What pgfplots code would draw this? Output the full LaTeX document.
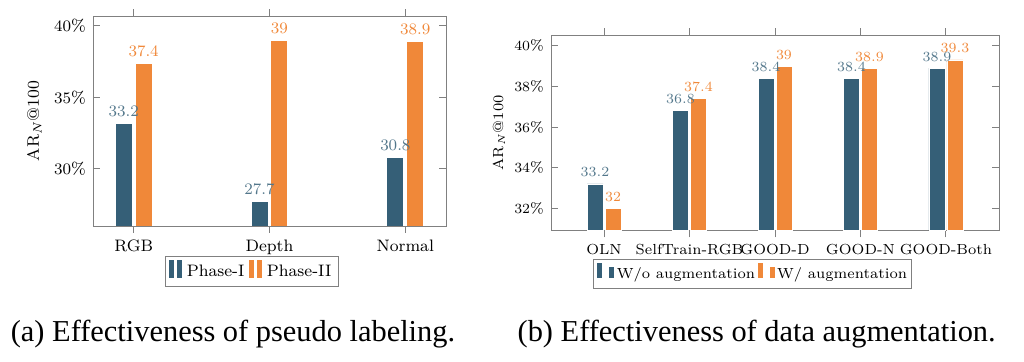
\documentclass[border=0pt]{standalone}
\usepackage{fontspec}
\usepackage{graphicx}
\usepackage{pgfplots}
\pgfplotsset{compat=1.18}
\newfontfamily\capfont{Liberation Serif}
\definecolor{cblue}{HTML}{355F77}
\definecolor{corange}{HTML}{F08839}
\definecolor{axgray}{HTML}{808080}
\pgfplotsset{
  mybar/.style={
    scale only axis,
    enlargelimits=false,
    ybar=1.4pt,
    axis line style={axgray},
    tick style={axgray, line width=0.5pt},
    major tick length=3.3pt,
    xtick align=outside,
    ytick align=inside,
    xtick pos=both,
    ytick pos=both,
    xticklabel pos=bottom,
    yticklabel pos=left,
    yticklabel={\pgfmathprintnumber{\tick}\%},
    ylabel={AR$_N$@100},
    legend columns=-1,
    legend image code/.code={%
      \draw[#1] (0cm,-0.1cm) rectangle (0.1cm,0.22cm);%
      \draw[#1] (0.14cm,-0.1cm) rectangle (0.24cm,0.22cm);},
  },
}
\begin{document}
\begin{tikzpicture}
\useasboundingbox (0pt,0pt) rectangle (512pt,181pt);
% ---------------- (a)
\begin{axis}[mybar,
  at={(46.5pt,68pt)}, anchor=south west,
  width=176.5pt, height=105pt,
  bar width=8.5pt,
  xmin=-0.3, xmax=2.3, ymin=26, ymax=40.7,
  xtick={0,1,2}, xticklabels={RGB,Depth,Normal},
  ytick={30,35,40},
  tick label style={font=\fontsize{8.3}{10}\selectfont},
  label style={font=\fontsize{8.3}{10}\selectfont},
  ylabel style={at={(axis description cs:-0.166,0.5)}, anchor=center},
  legend style={at={(0.45,-0.217)}, anchor=center, draw=axgray,
    font=\fontsize{8.3}{10}\selectfont, inner sep=1.5pt,
    /tikz/every even column/.append style={column sep=0pt}},
]
\addplot[fill=cblue, draw=white, line width=0.4pt, nodes near coords,
  every node near coord/.append style={text=cblue!85!white, font=\fontsize{8.3}{10}\selectfont}]
  coordinates {(0,33.2) (1,27.7) (2,30.8)};
\addplot[fill=corange, draw=white, line width=0.4pt, nodes near coords,
  every node near coord/.append style={text=corange, font=\fontsize{8.3}{10}\selectfont}]
  coordinates {(0,37.4) (1,39) (2,38.9)};
\legend{Phase-I,Phase-II}
\end{axis}
% ---------------- (b)
\begin{axis}[mybar,
  at={(275.5pt,65.65pt)}, anchor=south west,
  width=224pt, height=97.85pt,
  bar width=8pt, ybar=1pt,
  xmin=-0.62, xmax=4.62, ymin=30.9, ymax=40.53,
  xtick={0,1,2,3,4}, xticklabels={OLN,SelfTrain-RGB,GOOD-D,GOOD-N,GOOD-Both},
  ytick={32,34,36,38,40},
  tick label style={font=\fontsize{7.3}{9}\selectfont},
  label style={font=\fontsize{7.3}{9}\selectfont},
  ylabel style={at={(axis description cs:-0.116,0.5)}, anchor=center},
  legend style={at={(0.45,-0.22)}, anchor=center, draw=axgray,
    font=\fontsize{7.3}{9}\selectfont, inner sep=1.5pt,
    nodes={inner xsep=0.8pt},
    /tikz/every even column/.append style={column sep=0pt}},
]
\addplot[fill=cblue, draw=white, line width=0.4pt, nodes near coords,
  every node near coord/.append style={text=cblue!85!white, font=\fontsize{7.3}{9}\selectfont}]
  coordinates {(0,33.2) (1,36.8) (2,38.4) (3,38.4) (4,38.9)};
\addplot[fill=corange, draw=white, line width=0.4pt, nodes near coords,
  every node near coord/.append style={text=corange, font=\fontsize{7.3}{9}\selectfont}]
  coordinates {(0,32) (1,37.4) (2,39) (3,38.9) (4,39.3)};
\legend{W/o augmentation,W/ augmentation}
\end{axis}
% ---------------- captions
\node[anchor=base, inner sep=0pt, font=\capfont\fontsize{15.2}{18}\selectfont] at (116.5pt,10pt)
  {(a) Effectiveness of pseudo labeling.};
\node[anchor=base, inner sep=0pt, font=\capfont\fontsize{15.2}{18}\selectfont] at (378.35pt,10pt)
  {(b) Effectiveness of data augmentation.};
\end{tikzpicture}
\end{document}
